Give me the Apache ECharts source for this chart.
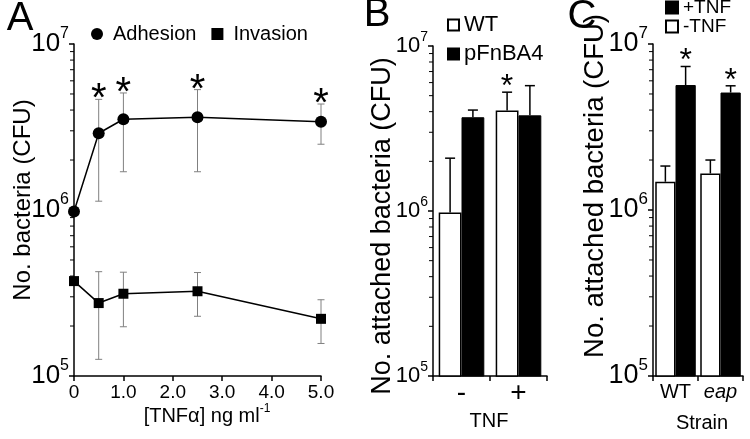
<!DOCTYPE html>
<html><head><meta charset="utf-8">
<script src="https://cdn.jsdelivr.net/npm/echarts@6/dist/echarts.min.js"></script>
<style>html,body{margin:0;padding:0;background:#fff}#c{width:750px;height:439px}</style>
</head><body><div id="c"></div>
<script>
// ---------- Panel A ----------
const doseTickLabels = ['0', '1.0', '2.0', '3.0', '4.0', '5.0'];
const doses = [0, 0.5, 1, 2.5, 5];
const adhesion = [0.98e6, 2.9e6, 3.52e6, 3.62e6, 3.40e6];
const adhesionHigh = [null, 4.64e6, 5.07e6, 5.31e6, 4.35e6];
const adhesionLow = [null, 1.13e6, 1.70e6, 1.70e6, 2.49e6];
const adhesionSig = [0, 1, 1, 1, 1];
const invasion = [3.73e5, 2.75e5, 3.13e5, 3.24e5, 2.21e5];
const invasionHigh = [null, 4.25e5, 4.22e5, 4.20e5, 2.88e5];
const invasionLow = [null, 1.26e5, 1.98e5, 2.29e5, 1.57e5];
// ---------- Panel B ----------
const tnfCats = ['-', '+'];
const wtB = [0.98e6, 4.06e6];
const wtBHigh = [2.09e6, 5.25e6];
const wtBSig = [0, 1];
const pfnbB = [3.70e6, 3.80e6];
const pfnbBHigh = [4.09e6, 5.75e6];
// ---------- Panel C ----------
const strainCats = ['WT', 'eap'];
const minusTNF = [1.48e6, 1.66e6];
const minusTNFHigh = [1.84e6, 2.00e6];
const plusTNF = [5.66e6, 5.10e6];
const plusTNFHigh = [7.32e6, 5.60e6];
const plusTNFSig = [1, 1];
// minor log ticks
const minorTickValues = [2e5, 3e5, 4e5, 5e5, 6e5, 7e5, 8e5, 9e5, 2e6, 3e6, 4e6, 5e6, 6e6, 7e6, 8e6, 9e6];

const REG = 'Liberation Sans';

const chart = echarts.init(document.getElementById('c'), null, {renderer: 'canvas'});

function yAx(grid, fsz, esz) {
  return {
    type: 'log', gridIndex: grid, logBase: 10, min: 1e5, max: 1e7, splitNumber: 2,
    axisLine: {show: true, lineStyle: {color: '#000', width: 1.5}},
    axisTick: {show: true, length: 5, lineStyle: {color: '#000', width: 1.5}},
    splitLine: {show: false}, minorTick: {show: false},
    axisLabel: {
      margin: 5, color: '#000',
      formatter: v => '{b|10}{e|' + Math.round(Math.log10(v)) + '}',
      rich: {
        b: {fontSize: fsz, fontFamily: REG, color: '#000'},
        e: {fontSize: esz, fontFamily: REG, color: '#000', padding: [0, 0, Math.round(fsz * 0.8), 0]}
      }
    }
  };
}

function textStyle(t, size, extra) {
  return Object.assign({text: t, fontSize: size, fontFamily: REG, fill: '#000',
    align: 'center', verticalAlign: 'middle', textAlign: 'center', textVerticalAlign: 'middle'}, extra || {});
}

function errA(color, starSize, starDy) {
  return function (params, api) {
    const x = api.value(0), lo = api.value(1), hi = api.value(2), sig = api.value(3);
    const pLo = api.coord([x, lo]), pHi = api.coord([x, hi]);
    const cw = 3.5;
    const st = {stroke: color, lineWidth: 1};
    const ch = [
      {type: 'line', shape: {x1: pLo[0], y1: pLo[1], x2: pHi[0], y2: pHi[1]}, style: st},
      {type: 'line', shape: {x1: pLo[0] - cw, y1: pLo[1], x2: pLo[0] + cw, y2: pLo[1]}, style: st},
      {type: 'line', shape: {x1: pHi[0] - cw, y1: pHi[1], x2: pHi[0] + cw, y2: pHi[1]}, style: st}
    ];
    if (sig) ch.push({type: 'text', x: pHi[0], y: pHi[1] + starDy, style: textStyle('*', starSize)});
    return {type: 'group', children: ch};
  };
}

function barErr(side, gap, starSize, starDy) {
  return function (params, api) {
    const i = api.value(0), v = api.value(1), hi = api.value(2), sig = api.value(3);
    const c0 = api.coord([0, v]), c1 = api.coord([1, v]);
    const bw = (c1[0] - c0[0]) * (1 - gap) / 2;
    const p = api.coord([i, v]), ph = api.coord([i, hi]);
    const x = p[0] + side * bw / 2;
    const cw = 5;
    const st = {stroke: '#000', lineWidth: 1.5};
    const ch = [
      {type: 'line', shape: {x1: x, y1: p[1], x2: x, y2: ph[1]}, style: st},
      {type: 'line', shape: {x1: x - cw, y1: ph[1], x2: x + cw, y2: ph[1]}, style: st}
    ];
    if (sig) ch.push({type: 'text', x: x, y: ph[1] + starDy, style: textStyle('*', starSize)});
    return {type: 'group', children: ch};
  };
}

function minorTicks(params, api) {
  const y = api.coord([api.value(0), api.value(1)])[1];
  const x0 = params.coordSys.x;
  return {type: 'line', shape: {x1: x0 - 4, y1: y, x2: x0, y2: y}, style: {stroke: '#000', lineWidth: 1}};
}

function errData(xs, lo, hi, sig) {
  const out = [];
  xs.forEach((x, i) => { if (hi[i] != null) out.push([x, lo[i], hi[i], sig ? sig[i] : 0]); });
  return out;
}
function barErrData(vals, hi, sig) {
  return vals.map((v, i) => [i, v, hi[i], sig ? sig[i] : 0]);
}
const minorData = minorTickValues.map(v => [0, v]);

const option = {
  animation: false,
  backgroundColor: '#fff',
  grid: [
    {left: 74, top: 44, width: 247, height: 332, outerBoundsMode: 'none'},
    {left: 433, top: 46, width: 114, height: 330, outerBoundsMode: 'none'},
    {left: 653, top: 44, width: 90, height: 332, outerBoundsMode: 'none'}
  ],
  xAxis: [
    {type: 'value', gridIndex: 0, min: 0, max: 5, interval: 1,
      axisLine: {show: true, lineStyle: {color: '#000', width: 1.5}},
      axisTick: {show: true, length: 5, lineStyle: {color: '#000', width: 1.5}},
      splitLine: {show: false},
      axisLabel: {margin: 7, color: '#000', fontSize: 19, fontFamily: REG,
        formatter: v => doseTickLabels[Math.round(v)]}},
    {type: 'category', gridIndex: 1, data: tnfCats,
      axisLine: {show: true, lineStyle: {color: '#000', width: 1.5}},
      axisTick: {show: true, length: 5, lineStyle: {color: '#000', width: 1.5}},
      axisLabel: {interval: 0, margin: 3, color: '#000', fontSize: 28, fontFamily: REG}},
    {type: 'category', gridIndex: 2, data: strainCats,
      axisLine: {show: true, lineStyle: {color: '#000', width: 1.5}},
      axisTick: {show: true, length: 5, lineStyle: {color: '#000', width: 1.5}},
      axisLabel: {interval: 0, hideOverlap: false, margin: 6, color: '#000', fontSize: 20, fontFamily: REG,
        formatter: v => v === 'eap' ? '{i|eap}' : v,
        rich: {i: {fontStyle: 'italic', fontSize: 20, fontFamily: REG, color: '#000'}}}}
  ],
  yAxis: [yAx(0, 26, 16), yAx(1, 22, 14), yAx(2, 27, 17)],
  legend: [
    {left: 91, top: 24, padding: 0, itemGap: 15, itemWidth: 12, itemHeight: 12, selectedMode: false,
      data: [{name: 'Adhesion', icon: 'circle'}, {name: 'Invasion', icon: 'rect'}],
      textStyle: {fontSize: 20, fontFamily: REG, color: '#000', padding: [0, 0, 0, 5]}},
    {left: 447, top: 14, orient: 'vertical', padding: 0, itemGap: 7, itemWidth: 11, itemHeight: 11, selectedMode: false,
      data: [{name: 'WT', icon: 'rect'}, {name: 'pFnBA4', icon: 'rect'}],
      textStyle: {fontSize: 22, fontFamily: REG, color: '#000'}},
    {left: 665, top: -2, orient: 'vertical', padding: 0, itemGap: 0, itemWidth: 12, itemHeight: 12, selectedMode: false,
      data: [{name: '+TNF', icon: 'rect'}, {name: '-TNF', icon: 'rect'}],
      textStyle: {fontSize: 19, fontFamily: REG, color: '#000'}}
  ],
  graphic: [
    {type: 'text', x: 20, y: 19, style: textStyle('A', 40)},
    {type: 'text', x: 377, y: 15, style: textStyle('B', 40)},
    {type: 'text', x: 582, y: 17, style: textStyle('C', 40)},
    {type: 'text', x: 23, y: 200, rotation: Math.PI / 2, style: textStyle('No. bacteria (CFU)', 24)},
    {type: 'text', x: 383, y: 226, rotation: Math.PI / 2, style: textStyle('No. attached bacteria (CFU)', 27)},
    {type: 'text', x: 595, y: 186, rotation: Math.PI / 2, style: textStyle('No. attached bacteria (CFU)', 27.5)},
    {type: 'text', x: 207, y: 416, style: textStyle('[TNF{g|α}] ng ml{s|-1}', 20, {
      rich: {g: {fontSize: 20, fontFamily: REG, fill: '#000'}, s: {fontSize: 12, fontFamily: REG, fill: '#000', padding: [0, 0, 14, 0]}}})},
    {type: 'text', x: 489, y: 421, style: textStyle('TNF', 20)},
    {type: 'text', x: 702, y: 423, style: textStyle('Strain', 20)}
  ],
  series: [
    // Panel A
    {type: 'line', name: 'Adhesion', xAxisIndex: 0, yAxisIndex: 0, data: doses.map((d, i) => [d, adhesion[i]]),
      symbol: 'circle', symbolSize: 12, itemStyle: {color: '#000'}, lineStyle: {color: '#000', width: 1.5}, z: 5},
    {type: 'line', name: 'Invasion', xAxisIndex: 0, yAxisIndex: 0, data: doses.map((d, i) => [d, invasion[i]]),
      symbol: 'rect', symbolSize: 10, itemStyle: {color: '#000'}, lineStyle: {color: '#000', width: 1.5}, z: 5},
    {type: 'custom', name: 'errAdh', xAxisIndex: 0, yAxisIndex: 0, renderItem: errA('#808080', 40, 1),
      data: errData(doses, adhesionLow, adhesionHigh, adhesionSig), z: 2},
    {type: 'custom', name: 'errInv', xAxisIndex: 0, yAxisIndex: 0, renderItem: errA('#808080', 40, 1),
      data: errData(doses, invasionLow, invasionHigh, null), z: 2},
    {type: 'custom', name: 'minorA', xAxisIndex: 0, yAxisIndex: 0, renderItem: minorTicks, data: minorData, silent: true},
    // Panel B
    {type: 'bar', name: 'WT', xAxisIndex: 1, yAxisIndex: 1, data: wtB, barGap: '0%', barCategoryGap: '20%',
      itemStyle: {color: '#fff', borderColor: '#000', borderWidth: 1.5}},
    {type: 'bar', name: 'pFnBA4', xAxisIndex: 1, yAxisIndex: 1, data: pfnbB, barGap: '0%', barCategoryGap: '20%',
      itemStyle: {color: '#000', borderColor: '#000', borderWidth: 1}},
    {type: 'custom', name: 'errWT', xAxisIndex: 1, yAxisIndex: 1, renderItem: barErr(-1, 0.2, 32, -5),
      data: barErrData(wtB, wtBHigh, wtBSig), z: 3},
    {type: 'custom', name: 'errPF', xAxisIndex: 1, yAxisIndex: 1, renderItem: barErr(1, 0.2, 32, -5),
      data: barErrData(pfnbB, pfnbBHigh, null), z: 3},
    {type: 'custom', name: 'minorB', xAxisIndex: 1, yAxisIndex: 1, renderItem: minorTicks, data: minorData, silent: true},
    // Panel C
    {type: 'bar', name: '-TNF', xAxisIndex: 2, yAxisIndex: 2, data: minusTNF, barGap: '0%', barCategoryGap: '10%',
      itemStyle: {color: '#fff', borderColor: '#000', borderWidth: 1.5}},
    {type: 'bar', name: '+TNF', xAxisIndex: 2, yAxisIndex: 2, data: plusTNF, barGap: '0%', barCategoryGap: '10%',
      itemStyle: {color: '#000', borderColor: '#000', borderWidth: 1}},
    {type: 'custom', name: 'errMinus', xAxisIndex: 2, yAxisIndex: 2, renderItem: barErr(-1, 0.1, 32, -5),
      data: barErrData(minusTNF, minusTNFHigh, null), z: 3},
    {type: 'custom', name: 'errPlus', xAxisIndex: 2, yAxisIndex: 2, renderItem: barErr(1, 0.1, 32, -5),
      data: barErrData(plusTNF, plusTNFHigh, plusTNFSig), z: 3},
    {type: 'custom', name: 'minorC', xAxisIndex: 2, yAxisIndex: 2, renderItem: minorTicks, data: minorData, silent: true}
  ]
};
chart.setOption(option);
</script>
</body></html>
